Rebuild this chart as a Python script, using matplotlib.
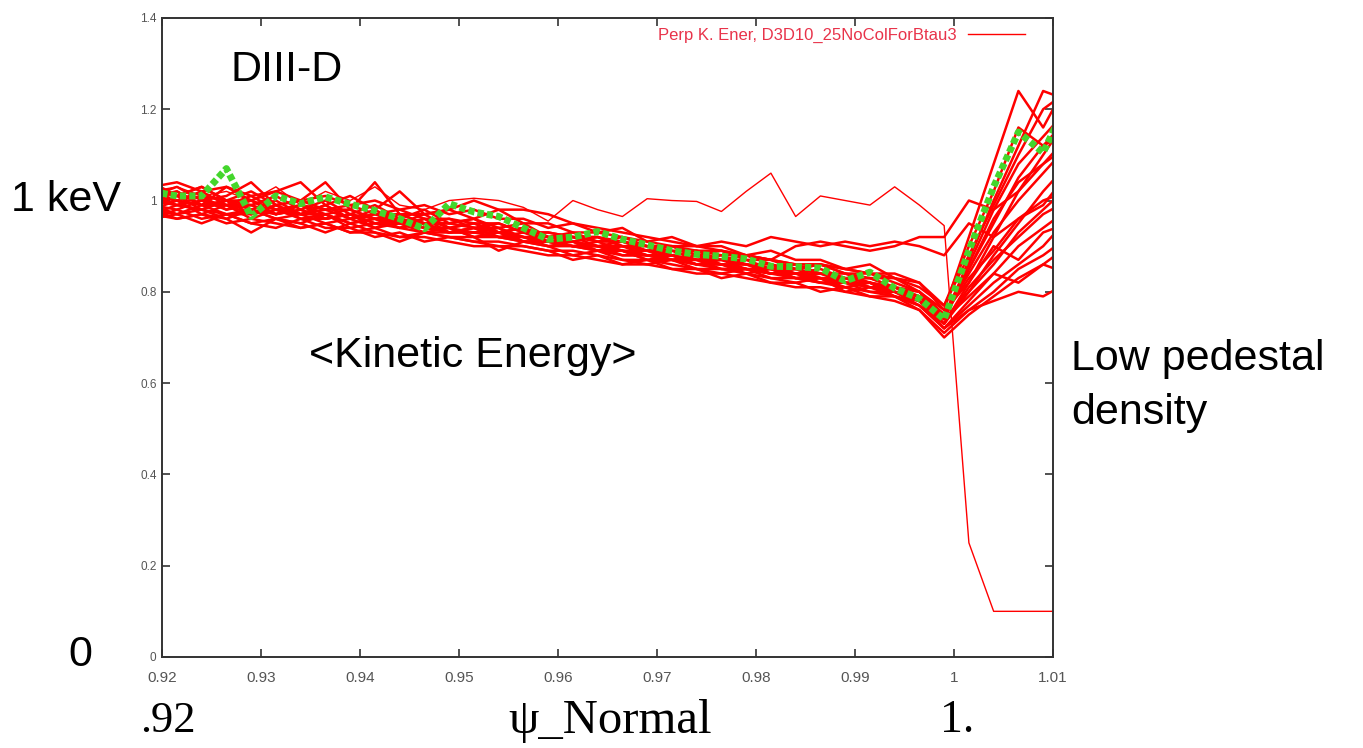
import matplotlib
matplotlib.use('Agg')
import matplotlib.pyplot as plt

# psi_N grid of the profiles
psi = [0.919, 0.9215, 0.924, 0.9265, 0.929, 0.9315, 0.934, 0.9365, 0.939, 0.9415,
       0.944, 0.9465, 0.949, 0.9515, 0.954, 0.9565, 0.959, 0.9615, 0.964, 0.9665,
       0.969, 0.9715, 0.974, 0.9765, 0.979, 0.9815, 0.984, 0.9865, 0.989, 0.9915,
       0.994, 0.9965, 0.999, 1.0015, 1.004, 1.0065, 1.009, 1.0115]

# green: averaged profile
avg_ke = [1.02, 1.01, 1.01, 1.07, 0.965, 1.01, 0.993, 1.008, 0.992, 0.978,
          0.96, 0.938, 0.993, 0.975, 0.965, 0.94, 0.915, 0.92, 0.932, 0.915,
          0.903, 0.89, 0.882, 0.878, 0.872, 0.856, 0.855, 0.852, 0.824, 0.843,
          0.808, 0.785, 0.74, 0.89, 1.03, 1.15, 1.105, 1.22]

# red: low pedestal density case
ke_low = [1.02, 1.03, 1.01, 1.02, 1.00, 1.03, 0.99, 1.02, 1.00, 1.03, 0.99, 0.98,
          1.00, 1.005, 1.00, 0.985, 0.955, 1.00, 0.98, 0.965, 1.004, 1.00,
          0.998, 0.976, 1.02, 1.06, 0.965, 1.01, 1.00, 0.99, 1.03, 0.99, 0.945,
          0.25, 0.10, 0.10, 0.10, 0.10]

# red: individual time slices
ke_a = [1.03,1.04,1.02,1.03,1.01,1.02,1.00,1.01,0.99,1.00,0.98,0.99,0.97,0.98,0.96,0.96,0.94,0.95,0.93,0.94,0.91,0.92,0.90,0.90,0.88,0.89,0.87,0.87,0.85,0.86,0.83,0.82,0.76, 0.82,0.92,1.02,1.10,1.18]
ke_b = [0.97,0.96,0.97,0.95,0.96,0.95,0.94,0.95,0.93,0.93,0.92,0.92,0.91,0.90,0.90,0.89,0.88,0.88,0.87,0.86,0.86,0.85,0.84,0.84,0.83,0.82,0.81,0.81,0.80,0.79,0.78,0.76,0.71, 0.76,0.80,0.85,0.88,0.92]
ke_c = [1.00,1.02,0.99,1.00,0.98,1.00,0.97,0.99,0.96,0.98,0.95,0.97,0.94,0.95,0.93,0.94,0.91,0.92,0.90,0.91,0.89,0.89,0.87,0.88,0.86,0.86,0.84,0.85,0.83,0.83,0.81,0.79,0.75, 0.86,0.98,1.08,1.14,1.20]
ke_d = [0.99,0.98,1.00,0.98,0.99,0.97,0.98,0.96,0.97,0.95,0.96,0.94,0.94,0.93,0.93,0.92,0.91,0.90,0.90,0.89,0.88,0.87,0.87,0.86,0.85,0.84,0.84,0.83,0.82,0.81,0.80,0.78,0.73, 0.80,0.88,0.95,1.02,1.08]
ke_e = [1.02,1.01,1.03,1.00,1.02,0.99,1.00,0.98,0.99,0.97,0.98,0.96,0.96,0.95,0.95,0.93,0.93,0.92,0.92,0.90,0.90,0.88,0.89,0.87,0.87,0.85,0.86,0.84,0.84,0.82,0.81,0.80,0.75, 0.84,0.93,1.00,1.06,1.12]
ke_f = [0.98,1.00,0.97,0.99,0.96,0.98,0.96,0.97,0.95,0.96,0.94,0.95,0.93,0.94,0.92,0.92,0.90,0.91,0.89,0.89,0.87,0.88,0.86,0.86,0.84,0.85,0.83,0.83,0.81,0.82,0.79,0.78,0.72, 0.78,0.84,0.90,0.94,0.98]
ke_g = [1.01,1.03,1.00,1.01,1.04,0.99,1.00,1.04,0.98,1.04,0.97,0.97,0.98,1.00,0.98,0.98,0.97,0.95,0.94,0.93,0.92,0.91,0.90,0.89,0.88,0.87,0.86,0.86,0.85,0.84,0.83,0.81,0.77, 0.88,0.99,1.10,1.20,1.24]
ke_h = [1.00,0.99,1.01,0.98,1.00,0.97,0.99,0.97,0.98,0.96,0.97,0.95,0.96,0.94,0.95,0.93,0.93,0.92,0.92,0.91,0.90,0.89,0.89,0.88,0.88,0.87,0.90,0.91,0.90,0.89,0.90,0.92,0.92, 1.00,0.98,1.02,1.08,1.12]
ke_i = [0.99,1.01,0.98,1.00,0.97,0.99,0.97,0.98,0.96,0.97,0.95,0.96,0.94,0.95,0.93,0.94,0.92,0.92,0.91,0.91,0.90,0.90,0.90,0.91,0.90,0.92,0.91,0.90,0.91,0.90,0.91,0.90,0.88, 0.95,0.92,0.96,1.00,1.02]
ke_j = [0.96,0.98,0.96,0.97,0.95,0.96,0.94,0.95,0.93,0.94,0.92,0.93,0.92,0.91,0.91,0.90,0.89,0.89,0.88,0.87,0.87,0.86,0.85,0.85,0.84,0.83,0.83,0.82,0.81,0.80,0.79,0.77,0.72, 0.76,0.78,0.80,0.79,0.82]
ke_k = [1.01,0.99,1.00,0.99,0.99,0.97,0.98,0.96,0.97,0.95,0.95,0.94,0.94,0.92,0.93,0.91,0.91,0.90,0.89,0.88,0.88,0.87,0.86,0.85,0.85,0.84,0.83,0.82,0.82,0.81,0.80,0.78,0.74, 0.79,0.84,0.82,0.86,0.84]
ke_l = [0.98,0.97,0.99,0.97,0.98,0.96,0.97,0.95,0.96,0.94,0.95,0.93,0.93,0.93,0.92,0.91,0.91,0.90,0.90,0.88,0.88,0.87,0.87,0.85,0.85,0.84,0.84,0.82,0.82,0.80,0.80,0.77,0.73, 0.82,0.90,0.87,0.93,0.95]
ke_m = [1.02,1.00,1.01,1.00,1.00,0.98,0.99,0.98,0.98,0.96,0.96,0.95,0.95,0.94,0.94,0.92,0.92,0.91,0.90,0.90,0.89,0.88,0.87,0.87,0.86,0.85,0.85,0.84,0.83,0.83,0.81,0.80,0.76, 0.92,1.08,1.24,1.16,1.26]
ke_n = [0.99,1.00,0.99,0.99,0.97,0.98,0.97,0.97,0.95,0.96,0.95,0.95,0.93,0.94,0.93,0.92,0.91,0.91,0.90,0.89,0.88,0.88,0.87,0.86,0.86,0.85,0.84,0.84,0.83,0.82,0.81,0.79,0.74, 0.87,1.00,1.12,1.24,1.22]
ke_o = [1.00,0.99,0.98,1.00,0.98,0.97,0.99,0.96,0.97,0.96,0.94,0.96,0.93,0.94,0.92,0.93,0.91,0.90,0.91,0.89,0.89,0.87,0.88,0.86,0.86,0.84,0.85,0.83,0.83,0.81,0.81,0.78,0.75, 0.83,0.89,0.96,0.99,1.06]
ke_p = [0.97,0.99,0.98,0.96,0.98,0.96,0.95,0.97,0.94,0.95,0.94,0.93,0.94,0.92,0.92,0.91,0.90,0.90,0.89,0.89,0.87,0.87,0.86,0.86,0.85,0.84,0.84,0.83,0.82,0.82,0.80,0.79,0.73, 0.81,0.87,0.92,0.97,1.00]
ke_q = [0.98,0.96,0.97,0.96,0.93,0.96,0.95,0.93,0.95,0.93,0.91,0.93,0.92,0.92,0.89,0.91,0.90,0.88,0.89,0.87,0.86,0.87,0.85,0.84,0.85,0.83,0.82,0.83,0.80,0.81,0.79,0.76,0.70, 0.75,0.79,0.83,0.86,0.90]
ke_r = [1.01,1.02,0.99,1.03,1.00,1.02,1.04,0.99,1.01,0.98,1.02,0.97,0.98,0.96,0.98,0.95,0.95,0.93,0.93,0.92,0.91,0.90,0.89,0.89,0.88,0.87,0.86,0.86,0.85,0.84,0.84,0.82,0.77, 0.90,1.02,1.16,1.12,1.18]
ke_s = [1.04,1.01,1.03,1.00,0.99,1.01,0.98,1.00,0.97,0.99,0.96,0.98,0.95,0.96,0.94,0.95,0.92,0.93,0.91,0.92,0.90,0.90,0.88,0.89,0.87,0.87,0.85,0.86,0.84,0.84,0.82,0.80,0.74, 0.85,0.95,1.05,1.12,1.15]
ke_t = [0.96,0.97,0.95,0.97,0.95,0.94,0.96,0.94,0.94,0.92,0.93,0.91,0.92,0.91,0.90,0.90,0.89,0.87,0.88,0.86,0.87,0.85,0.85,0.83,0.84,0.82,0.82,0.80,0.81,0.79,0.79,0.77,0.72, 0.77,0.82,0.86,0.90,0.96]
ke_u = [1.01,1.00,1.02,0.99,1.01,0.98,0.97,0.99,0.96,0.97,0.97,0.95,0.95,0.96,0.93,0.94,0.92,0.91,0.92,0.90,0.89,0.90,0.88,0.87,0.88,0.86,0.85,0.86,0.84,0.83,0.83,0.80,0.75, 0.85,0.96,1.04,1.08,1.14]
ke_v = [0.99,0.97,0.98,0.97,0.97,0.99,0.96,0.96,0.97,0.94,0.96,0.94,0.93,0.93,0.94,0.91,0.91,0.91,0.89,0.90,0.88,0.88,0.86,0.87,0.85,0.85,0.83,0.84,0.82,0.82,0.80,0.79,0.74, 0.80,0.86,0.93,0.98,1.03]

slices = [ke_a, ke_b, ke_c, ke_d, ke_e, ke_f, ke_g, ke_h, ke_i, ke_j, ke_k,
          ke_l, ke_m, ke_n, ke_o, ke_p, ke_q, ke_r, ke_s, ke_t, ke_u, ke_v]

xticks = [0.92, 0.93, 0.94, 0.95, 0.96, 0.97, 0.98, 0.99, 1.0, 1.01]
xticklabels = ['0.92', '0.93', '0.94', '0.95', '0.96', '0.97', '0.98', '0.99', '1', '1.01']
yticks = [0, 0.2, 0.4, 0.6, 0.8, 1.0, 1.2, 1.4]
yticklabels = ['0', '0.2', '0.4', '0.6', '0.8', '1', '1.2', '1.4']

plt.rcParams['font.family'] = ['Liberation Sans', 'DejaVu Sans']

fig = plt.figure(figsize=(13.63, 7.48), dpi=100)
ax = fig.add_axes([0.1189, 0.1217, 0.6537, 0.8543])

red = '#ff0000'
ax.plot(psi, ke_low, color=red, lw=1.0, label='Perp K. Ener, D3D10_25NoColForBtau3')
for s in slices:
    ax.plot(psi, s, color=red, lw=1.8)
ax.plot(psi, avg_ke, color='#44d62c', lw=5, linestyle=(0, (0.9, 0.45)))

ax.set_xlim(0.92, 1.01)
ax.set_ylim(0, 1.4)
ax.set_xticks(xticks)
ax.set_xticklabels(xticklabels)
ax.set_yticks(yticks)
ax.set_yticklabels(yticklabels)
ax.tick_params(direction='in', top=True, right=True, length=6, width=1.2,
               labelcolor='#555555', color='#333333')
ax.tick_params(axis='x', labelsize=11, pad=10)
ax.tick_params(axis='y', labelsize=8.5, pad=4)
for sp in ax.spines.values():
    sp.set_color('#333333')
    sp.set_linewidth(1.4)

leg = ax.legend(loc='upper right', bbox_to_anchor=(0.985, 1.008), frameon=False,
                markerfirst=False, fontsize=12, handlelength=3.4, handletextpad=0.7)
for t in leg.get_texts():
    t.set_color('#e8334a')

# annotations
ax.text(0.9326, 1.286, 'DIII-D', fontsize=31, ha='center', va='center')
ax.text(0.9514, 0.659, '<Kinetic Energy>', fontsize=31, ha='center', va='center')
fig.text(0.008, 0.733, '1 keV', fontsize=31, ha='left', va='center')
fig.text(0.050, 0.124, '0', fontsize=31, ha='left', va='center')
fig.text(0.786, 0.484, 'Low pedestal\ndensity', fontsize=31, ha='left', va='center',
         linespacing=1.45)

serif = ['Liberation Serif', 'DejaVu Serif']
fig.text(0.103, 0.036, '.92', fontsize=32, family=serif, ha='left', va='center')
fig.text(0.448, 0.036, 'ψ_Normal', fontsize=35, family=serif, ha='center', va='center')
fig.text(0.690, 0.036, '1.', fontsize=33, family=serif, ha='left', va='center')

fig.savefig('out.png', dpi=100)
